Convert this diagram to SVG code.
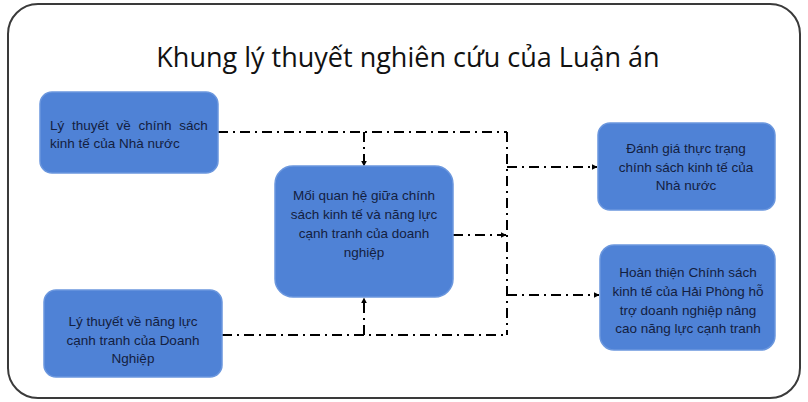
<svg xmlns="http://www.w3.org/2000/svg" width="808" height="402" viewBox="0 0 808 402">
<defs>
<marker id="ah" viewBox="0 0 10 10" refX="9" refY="5" markerWidth="6" markerHeight="6" orient="auto" markerUnits="userSpaceOnUse">
<path d="M0,0 L10,5 L0,10 z" fill="#000"/>
</marker>
<style>
.box{fill:#4f82d6;stroke:#6b97de;stroke-width:1.5}
.t{font-family:"Liberation Sans",Arial,sans-serif;font-size:13.5px;fill:#13203f}
.c{text-anchor:middle}
.ln{fill:none;stroke:#000;stroke-width:2;stroke-dasharray:10 5 2 5}
.title{font-family:"Open Sans","Liberation Sans",sans-serif;font-size:27px;fill:#111;text-anchor:middle}
</style>
</defs>
<rect x="0" y="0" width="808" height="402" fill="#fff"/>
<rect x="8" y="4" width="792" height="394" rx="30" ry="30" fill="#fff" stroke="#3a3a3a" stroke-width="2"/>
<text class="title" x="408" y="67">Khung lý thuyết nghiên cứu của Luận án</text>
<g id="connectors">
<path class="ln" d="M218,132 H507"/>
<path class="ln" d="M364,132 V166" marker-end="url(#ah)"/>
<path class="ln" d="M507,132 V335"/>
<path class="ln" d="M453,235 H506" marker-end="url(#ah)"/>
<path class="ln" d="M507,167 H597" marker-end="url(#ah)"/>
<path class="ln" d="M507,295 H599" marker-end="url(#ah)"/>
<path class="ln" d="M222,335 H507"/>
<path class="ln" d="M364,335 V298" marker-end="url(#ah)"/>
</g>
<g id="n1">
<rect class="box" x="40" y="92" width="178" height="81" rx="12"/>
<text class="t" x="50" y="130" word-spacing="4">Lý thuyết về chính sách</text>
<text class="t" x="50" y="148">kinh tế của Nhà nước</text>
</g>
<g id="n2">
<rect class="box" x="275" y="166" width="178" height="131" rx="18"/>
<text class="t c" x="364" y="200">Mối quan hệ giữa chính</text>
<text class="t c" x="364" y="219">sách kinh tế và năng lực</text>
<text class="t c" x="364" y="238">cạnh tranh của doanh</text>
<text class="t c" x="364" y="257">nghiệp</text>
</g>
<g id="n3">
<rect class="box" x="598" y="123" width="177" height="87" rx="12"/>
<text class="t c" x="686" y="153">Đánh giá thực trạng</text>
<text class="t c" x="686" y="172">chính sách kinh tế của</text>
<text class="t c" x="686" y="190">Nhà nước</text>
</g>
<g id="n4">
<rect class="box" x="600" y="245" width="175" height="105" rx="14"/>
<text class="t c" x="688" y="277">Hoàn thiện Chính sách</text>
<text class="t c" x="688" y="296">kinh tế của Hải Phòng hỗ</text>
<text class="t c" x="688" y="315">trợ doanh nghiệp nâng</text>
<text class="t c" x="688" y="333">cao năng lực cạnh tranh</text>
</g>
<g id="n5">
<rect class="box" x="44" y="290" width="178" height="87" rx="12"/>
<text class="t c" x="133" y="326">Lý thuyết về năng lực</text>
<text class="t c" x="133" y="345">cạnh tranh của Doanh</text>
<text class="t c" x="133" y="363">Nghiệp</text>
</g>
</svg>
